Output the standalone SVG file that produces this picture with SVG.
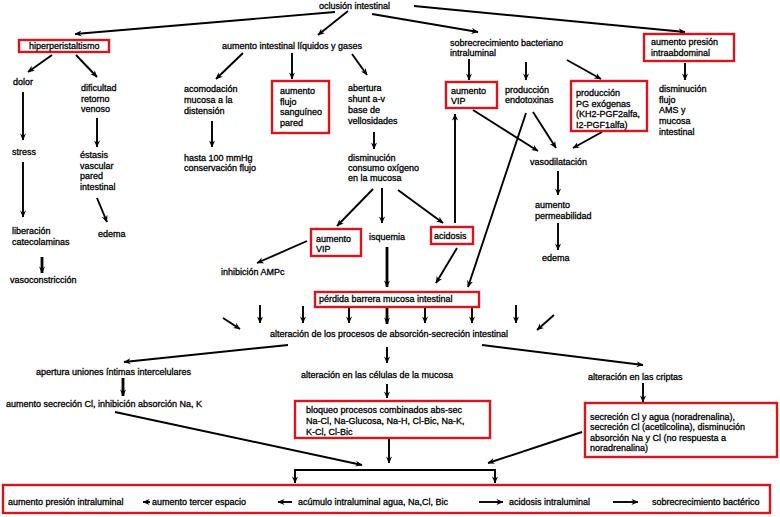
<svg xmlns="http://www.w3.org/2000/svg" width="780" height="517" viewBox="0 0 780 517">
<defs>
<style>
text{font-family:"Liberation Sans",Arial,sans-serif;font-size:9px;fill:#000;stroke:#000;stroke-width:0.3}
.box{fill:#fff;stroke:#d9141c;stroke-width:2.4}
.c line,.c path{stroke:#000;stroke-width:1.9;fill:none;marker-end:url(#ah)}
.c .thick{stroke-width:2.8}
</style>
<marker id="ah" viewBox="0 0 8 8" refX="7.5" refY="4" markerWidth="7" markerHeight="7" markerUnits="userSpaceOnUse" orient="auto">
<path d="M0,0.5 L8,4 L0,7.5 L2.5,4 z" fill="#000"/>
</marker>
</defs>
<rect width="780" height="517" fill="#fff"/>

<g id="connectors" class="c">
<line x1="335" y1="12" x2="75" y2="34"/>
<line x1="348" y1="11" x2="318" y2="35"/>
<line x1="372" y1="14" x2="478" y2="32"/>
<line x1="414" y1="6" x2="685" y2="32"/>
<line x1="52" y1="55" x2="28" y2="72"/>
<line x1="76" y1="55" x2="97" y2="77"/>
<line x1="23" y1="92" x2="23" y2="140"/>
<line x1="97" y1="118" x2="97" y2="147"/>
<line x1="97" y1="198" x2="107" y2="222"/>
<line x1="23" y1="162" x2="23" y2="217"/>
<line class="thick" x1="42" y1="257" x2="42" y2="273"/>
<line x1="243" y1="53" x2="216" y2="79"/>
<line x1="212" y1="121" x2="212" y2="147"/>
<line x1="292" y1="53" x2="292" y2="79"/>
<line x1="352" y1="54" x2="367" y2="75"/>
<line x1="374" y1="132" x2="374" y2="149"/>
<line x1="373" y1="189" x2="337" y2="226"/>
<line x1="382" y1="188" x2="382" y2="223"/>
<line x1="398" y1="190" x2="443" y2="223"/>
<line x1="307" y1="241" x2="257" y2="263"/>
<line class="thick" x1="387" y1="247" x2="387" y2="287"/>
<line x1="457" y1="248" x2="436" y2="283"/>
<line x1="455" y1="223" x2="455" y2="114"/>
<line x1="526" y1="113" x2="468" y2="287"/>
<line x1="469" y1="59" x2="469" y2="80"/>
<line x1="526" y1="62" x2="526" y2="80"/>
<line x1="567" y1="60" x2="601" y2="79"/>
<line x1="685" y1="63" x2="685" y2="80"/>
<line x1="473" y1="110" x2="538" y2="151"/>
<line x1="533" y1="112" x2="556" y2="148"/>
<line x1="602" y1="132" x2="573" y2="148"/>
<line x1="558" y1="171" x2="558" y2="195"/>
<line x1="558" y1="223" x2="558" y2="250"/>
<line x1="223" y1="318" x2="240" y2="329"/>
<line x1="260" y1="305" x2="260" y2="323"/>
<line x1="303" y1="306" x2="303" y2="323"/>
<line x1="349" y1="306" x2="349" y2="323"/>
<line class="thick" x1="387" y1="306" x2="387" y2="324"/>
<line x1="425" y1="306" x2="425" y2="323"/>
<line x1="472" y1="306" x2="472" y2="323"/>
<line x1="516" y1="305" x2="516" y2="323"/>
<line x1="554" y1="315" x2="537" y2="330"/>
<line x1="288" y1="345" x2="124" y2="362"/>
<line x1="387" y1="347" x2="387" y2="363"/>
<line x1="482" y1="345" x2="643" y2="365"/>
<line class="thick" x1="123" y1="378" x2="123" y2="396"/>
<line x1="387" y1="384" x2="387" y2="398"/>
<line x1="643" y1="383" x2="643" y2="402"/>
<line x1="115" y1="412" x2="362" y2="465"/>
<line x1="389" y1="438" x2="389" y2="463"/>
<line x1="582" y1="432" x2="488" y2="463"/>
<path d="M295,470 H495 V483"/>
<line x1="295" y1="469" x2="295" y2="483"/>
</g>

<g id="n_oclusion"><text x="319" y="9">oclusión intestinal</text></g>
<g id="n_hiper"><rect class="box" x="19" y="40" width="90" height="12"/><text x="29" y="49">hiperperistaltismo</text></g>
<g id="n_aumliq"><text x="222" y="49">aumento intestinal líquidos y gases</text></g>
<g id="n_sobre"><text x="450" y="46">sobrecrecimiento bacteriano</text><text x="450" y="56">intraluminal</text></g>
<g id="n_presion"><rect class="box" x="644" y="34" width="90" height="27"/><text x="651" y="45">aumento presión</text><text x="651" y="56">intraabdominal</text></g>

<g id="n_dolor"><text x="13" y="85">dolor</text></g>
<g id="n_dific"><text x="81" y="91">dificultad</text><text x="81" y="102">retorno</text><text x="81" y="112">venoso</text></g>
<g id="n_stress"><text x="12" y="155">stress</text></g>
<g id="n_estasis"><text x="80" y="158">éstasis</text><text x="80" y="169">vascular</text><text x="80" y="179">pared</text><text x="80" y="190">intestinal</text></g>
<g id="n_edema1"><text x="98" y="237">edema</text></g>
<g id="n_liber"><text x="12" y="234">liberación</text><text x="12" y="245">catecolaminas</text></g>
<g id="n_vasocon"><text x="10" y="283">vasoconstricción</text></g>

<g id="n_acomod"><text x="184" y="92">acomodación</text><text x="184" y="103">mucosa a la</text><text x="184" y="114">distensión</text></g>
<g id="n_hasta"><text x="184" y="161">hasta 100 mmHg</text><text x="184" y="171">conservación flujo</text></g>
<g id="n_flujo"><rect class="box" x="272" y="81" width="57" height="52"/><text x="280" y="94">aumento</text><text x="280" y="105">flujo</text><text x="280" y="115">sanguíneo</text><text x="280" y="126">pared</text></g>
<g id="n_abert"><text x="348" y="91">abertura</text><text x="348" y="102">shunt a-v</text><text x="348" y="113">base de</text><text x="348" y="124">vellosidades</text></g>
<g id="n_dismin"><text x="348" y="161">disminución</text><text x="348" y="171">consumo oxígeno</text><text x="348" y="181">en la mucosa</text></g>
<g id="n_vip1"><rect class="box" x="311" y="229" width="50" height="27"/><text x="316" y="242">aumento</text><text x="316" y="252">VIP</text></g>
<g id="n_isq"><text x="369" y="240">isquemia</text></g>
<g id="n_acid"><rect class="box" x="431" y="227" width="42" height="17"/><text x="434" y="239">acidosis</text></g>
<g id="n_inhib"><text x="221" y="275">inhibición AMPc</text></g>

<g id="n_vip2"><rect class="box" x="446" y="82" width="51" height="26"/><text x="451" y="94">aumento</text><text x="451" y="104">VIP</text></g>
<g id="n_endo"><text x="505" y="93">producción</text><text x="505" y="103">endotoxinas</text></g>
<g id="n_pg"><rect class="box" x="571" y="81" width="76" height="50"/><text x="576" y="96">producción</text><text x="576" y="107">PG exógenas</text><text x="576" y="117">(KH2-PGF2alfa,</text><text x="576" y="128">I2-PGF1alfa)</text></g>
<g id="n_dismflujo"><text x="659" y="92">disminución</text><text x="659" y="103">flujo</text><text x="659" y="113">AMS y</text><text x="659" y="124">mucosa</text><text x="659" y="135">intestinal</text></g>
<g id="n_vasodil"><text x="530" y="165">vasodilatación</text></g>
<g id="n_permeab"><text x="535" y="208">aumento</text><text x="535" y="219">permeabilidad</text></g>
<g id="n_edema2"><text x="542" y="261">edema</text></g>

<g id="n_perdida"><rect class="box" x="315" y="292" width="164" height="15"/><text x="319" y="302">pérdida barrera mucosa intestinal</text></g>
<g id="n_alter"><text x="389" y="337" text-anchor="middle">alteración de los procesos de absorción-secreción intestinal</text></g>
<g id="n_apert"><text x="36" y="375">apertura uniones íntimas intercelulares</text></g>
<g id="n_secrCl"><text x="6" y="407">aumento secreción Cl, inhibición absorción Na, K</text></g>
<g id="n_celulas"><text x="301" y="378">alteración en las células de la mucosa</text></g>
<g id="n_bloqueo"><rect class="box" x="295" y="401" width="195" height="37"/><text x="306" y="413">bloqueo procesos combinados abs-sec</text><text x="306" y="424">Na-Cl, Na-Glucosa, Na-H, Cl-Bic, Na-K,</text><text x="306" y="435">K-Cl, Cl-Bic</text></g>
<g id="n_criptas"><text x="588" y="380">alteración en las criptas</text></g>
<g id="n_secrbox"><rect class="box" x="585" y="403" width="192" height="54"/><text x="590" y="420">secreción Cl y agua (noradrenalina),</text><text x="590" y="430">secreción Cl (acetilcolina), disminución</text><text x="590" y="441">absorción Na y Cl (no respuesta a</text><text x="590" y="451">noradrenalina)</text></g>

<g id="n_bottom">
<rect class="box" x="3" y="485" width="767" height="28"/>
<text x="8" y="505">aumento presión intraluminal</text>
<text x="152" y="505">aumento tercer espacio</text>
<text x="298" y="505">acúmulo intraluminal agua, Na,Cl, Bic</text>
<text x="509" y="505">acidosis intraluminal</text>
<text x="652" y="505">sobrecrecimiento bactérico</text>
<g class="c">
<line x1="150" y1="502" x2="143" y2="502"/>
<line x1="292" y1="502" x2="278" y2="502"/>
<line x1="479" y1="502" x2="503" y2="502"/>
<line x1="613" y1="502" x2="638" y2="502"/>
</g>
</g>
</svg>
